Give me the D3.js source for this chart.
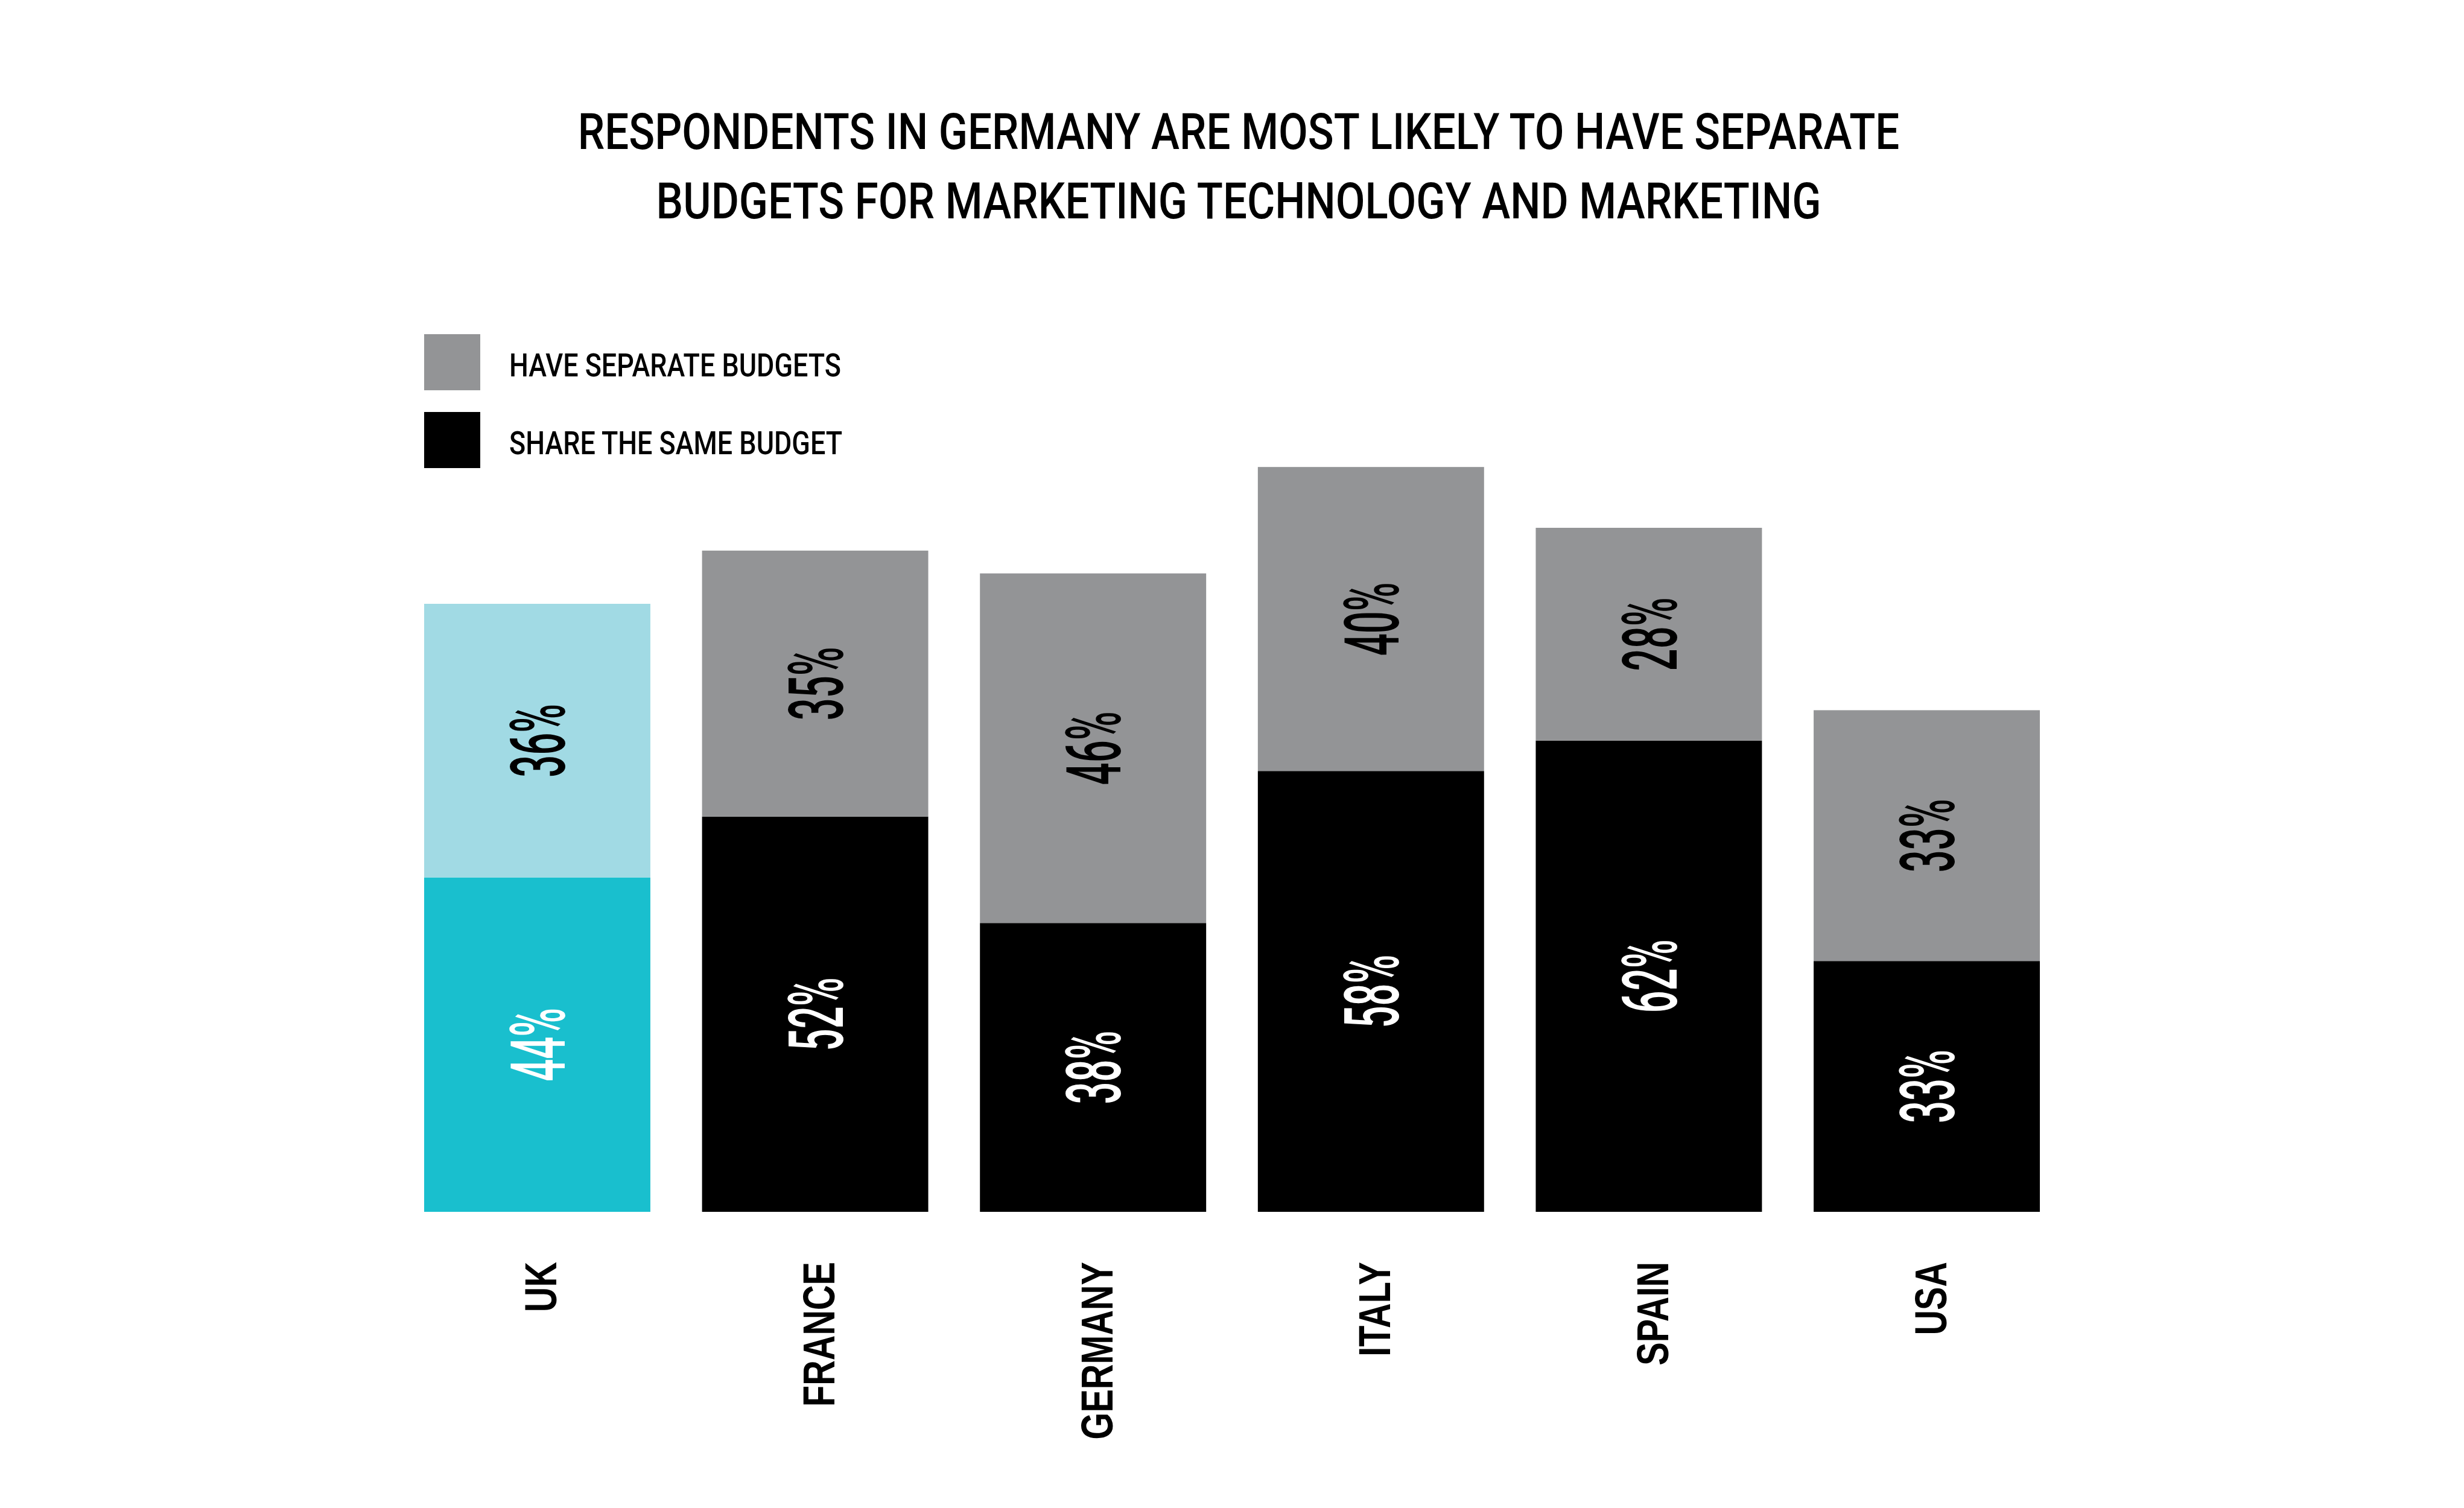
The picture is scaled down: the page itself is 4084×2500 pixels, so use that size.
<!DOCTYPE html>
<html>
<head>
<meta charset="utf-8">
<script src="https://cdn.jsdelivr.net/npm/d3@7"></script>
<style>
  html, body { margin: 0; padding: 0; background: #fff; }
  svg { display: block; }
</style>
</head>
<body>
<script>
'use strict';

// chart data
var countries = ["UK", "FRANCE", "GERMANY", "ITALY", "SPAIN", "USA"];
var shareSame = [44, 52, 38, 58, 62, 33];   // share the same budget (bottom)
var separate  = [36, 35, 46, 40, 28, 33];   // have separate budgets (top)
var highlight = "UK";

var titleLines = [
    "RESPONDENTS IN GERMANY ARE MOST LIKELY TO HAVE SEPARATE",
    "BUDGETS FOR MARKETING TECHNOLOGY AND MARKETING"
];
var legendLabels = ["HAVE SEPARATE BUDGETS", "SHARE THE SAME BUDGET"];

var W = 4084, H = 2500;
var margin = {top: 749, right: 703, bottom: 491, left: 703},
    width = W - margin.left - margin.right,
    height = H - margin.top - margin.bottom;

var colors = {
    separate: "#939496", same: "#000000",
    hlSeparate: "#a1dae4", hlSame: "#19bfce"
};

var condensed = "Roboto, 'Liberation Sans', sans-serif";
var wide = "'Liberation Sans', Arial, sans-serif";

var svg = d3.select("body")
    .append("svg")
    .attr("width", W)
    .attr("height", H);

// measure natural width of a string so the condensed look can be matched
function naturalWidth(str, family, size, weight) {
    var t = svg.append("text")
        .style("font-family", family)
        .style("font-size", size + "px")
        .style("font-weight", weight)
        .text(str);
    var w = t.node().getComputedTextLength();
    t.remove();
    return w;
}

// title
var titleSize = 84;
var titleSx = 2191 / naturalWidth(titleLines[0], condensed, titleSize, 500);
svg.append("g")
    .selectAll("text")
    .data(titleLines)
    .enter()
    .append("text")
    .attr("transform", function(d, i) { return "translate(2053," + (247 + i * 115) + ") scale(" + titleSx + ",1)"; })
    .attr("text-anchor", "middle")
    .style("font-family", condensed)
    .style("font-size", titleSize + "px")
    .style("font-weight", 500)
    .style("fill", "#000")
    .text(function(d) { return d; });

var g = svg.append("g")
    .attr("transform", "translate(" + margin.left + "," + margin.top + ")");

var xScale = d3.scaleBand()
    .domain(countries)
    .range([0, width])
    .paddingInner(0.186)
    .paddingOuter(0);

var yScale = d3.scaleLinear()
    .domain([0, 100])
    .range([height, 0]);

var rows = countries.map(function(c, i) {
    return {country: c, same: shareSame[i], separate: separate[i]};
});

var series = d3.stack().keys(["same", "separate"])(rows);

function fillFor(key, country) {
    if (country === highlight) return key === "same" ? colors.hlSame : colors.hlSeparate;
    return key === "same" ? colors.same : colors.separate;
}
function textFor(key) {
    return key === "same" ? "#fff" : "#000";
}

var layers = g.selectAll(".layer")
    .data(series)
    .enter()
    .append("g")
    .attr("class", "layer");

layers.selectAll("rect")
    .data(function(s) { return s.map(function(d) { return {key: s.key, d: d}; }); })
    .enter()
    .append("rect")
    .attr("x", function(p) { return xScale(p.d.data.country); })
    .attr("width", xScale.bandwidth())
    .attr("y", function(p) { return yScale(p.d[1]); })
    .attr("height", function(p) { return yScale(p.d[0]) - yScale(p.d[1]); })
    .style("fill", function(p) { return fillFor(p.key, p.d.data.country); });

// value labels, rotated and condensed
var valSize = 127;
var valSx = 122 / naturalWidth("36%", condensed, valSize, 500);
layers.selectAll("text")
    .data(function(s) { return s.map(function(d) { return {key: s.key, d: d}; }); })
    .enter()
    .append("text")
    .attr("transform", function(p) {
        var cx = xScale(p.d.data.country) + xScale.bandwidth() / 2;
        var cy = (yScale(p.d[0]) + yScale(p.d[1])) / 2;
        return "translate(" + cx + "," + cy + ") rotate(-90) scale(" + valSx + ",1)";
    })
    .attr("text-anchor", "middle")
    .attr("dy", "0.36em")
    .style("font-family", condensed)
    .style("font-size", valSize + "px")
    .style("font-weight", 500)
    .style("fill", function(p) { return textFor(p.key); })
    .text(function(p) { return (p.d[1] - p.d[0]) + "%"; });

// country labels
var axSize = 75;
var axSx = 240 / naturalWidth("FRANCE", wide, axSize, 700);
var xAxis = g.append("g")
    .attr("transform", "translate(0," + height + ")")
    .call(d3.axisBottom(xScale).tickSize(0).tickPadding(0));
xAxis.select(".domain").remove();
xAxis.selectAll("text")
    .attr("y", 0)
    .attr("transform", "translate(5,83) rotate(-90) scale(" + axSx + ",1)")
    .attr("dy", "0.36em")
    .style("text-anchor", "end")
    .style("font-family", wide)
    .style("font-size", axSize + "px")
    .style("font-weight", 700)
    .style("fill", "#000");

// legend
var legSize = 53;
var legSx = 550 / naturalWidth(legendLabels[0], condensed, legSize, 500);
var legend = svg.append("g")
    .attr("transform", "translate(703,554)");
var legItems = legend.selectAll("g")
    .data(legendLabels)
    .enter()
    .append("g")
    .attr("transform", function(d, i) { return "translate(0," + (i * 129) + ")"; });
legItems.append("rect")
    .attr("width", 93)
    .attr("height", 93)
    .style("fill", function(d, i) { return i === 0 ? colors.separate : colors.same; });
legItems.append("text")
    .attr("transform", "translate(141,70) scale(" + legSx + ",1)")
    .style("font-family", condensed)
    .style("font-size", legSize + "px")
    .style("font-weight", 500)
    .style("fill", "#000")
    .text(function(d) { return d; });
</script>
</body>
</html>
